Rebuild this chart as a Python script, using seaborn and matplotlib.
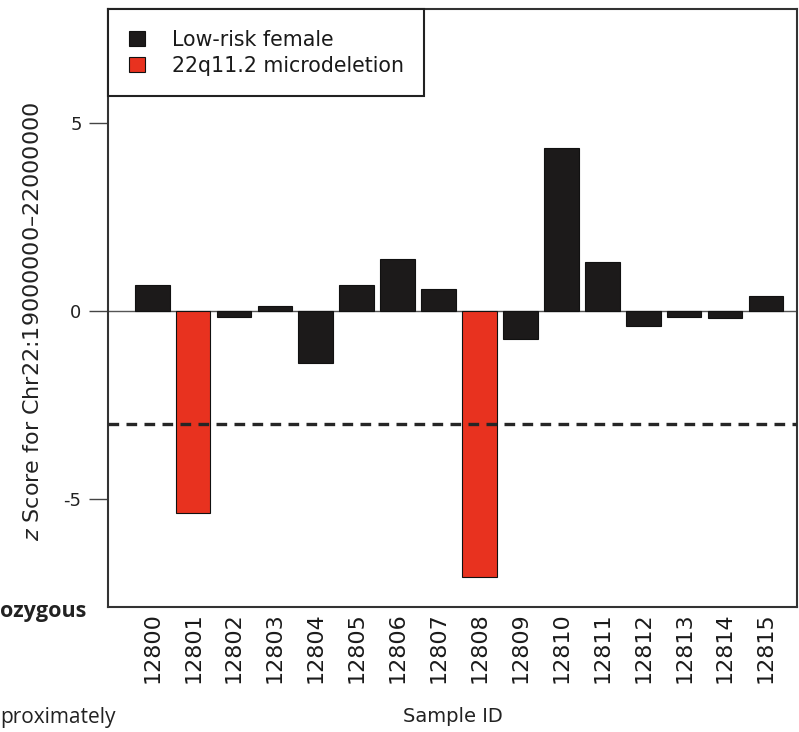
import matplotlib
matplotlib.use("Agg")
import matplotlib.pyplot as plt
import seaborn as sns
import pandas as pd

samples = ["12800", "12801", "12802", "12803", "12804", "12805", "12806", "12807",
           "12808", "12809", "12810", "12811", "12812", "12813", "12814", "12815"]
z_scores = [0.69, -5.36, -0.15, 0.13, -1.38, 0.69, 1.38, 0.58,
            -7.06, -0.74, 4.33, 1.30, -0.39, -0.15, -0.19, 0.41]
groups = ["Low-risk female", "22q11.2 microdeletion", "Low-risk female", "Low-risk female",
          "Low-risk female", "Low-risk female", "Low-risk female", "Low-risk female",
          "22q11.2 microdeletion", "Low-risk female", "Low-risk female", "Low-risk female",
          "Low-risk female", "Low-risk female", "Low-risk female", "Low-risk female"]
group_order = ["Low-risk female", "22q11.2 microdeletion"]
group_colors = ["#1c1a1a", "#e8321f"]
threshold = -3
y_ticks = [-5, 0, 5]

sns.set_theme(style="ticks")
plt.rcParams["font.family"] = ["DejaVu Sans"]
plt.rcParams["axes.unicode_minus"] = False

df = pd.DataFrame({"sample": samples, "z": z_scores, "group": groups})

fig = plt.figure(figsize=(7.99, 7.32), dpi=100)
ax = fig.add_axes([108 / 799, 1 - 607 / 732, (797 - 108) / 799, (607 - 9) / 732])

sns.barplot(data=df, x="sample", y="z", hue="group", hue_order=group_order,
            order=samples, palette=group_colors, dodge=False, width=0.85,
            edgecolor="#111111", linewidth=0.8, saturation=1, ax=ax)

ax.axhline(0, color="#555555", lw=1.0, zorder=0.5)
ax.axhline(threshold, color="#262626", lw=2.4, ls=(0, (3.2, 2.2)), zorder=3)

ax.set_xlim(-1.08, 15.76)
ax.set_ylim(-7.86, 8.02)
ax.set_yticks(y_ticks)
ax.set_yticklabels([str(t) for t in y_ticks], fontsize=13, color="#222222")
ax.tick_params(axis="y", length=14, width=1.0, color="#444444", pad=5)
ax.tick_params(axis="x", length=0, pad=4, labelsize=16, labelrotation=90, labelcolor="#1a1a1a")

ax.set_xlabel("Sample ID", fontsize=14, color="#222222")
ax.xaxis.set_label_coords(0.5, (607 - 707) / 598)
ax.set_ylabel("$z$ Score for Chr22:19000000–22000000", fontsize=16, color="#222222")
ax.yaxis.set_label_coords(-0.094, 0.478)

for side in ["left", "right", "top", "bottom"]:
    ax.spines[side].set_visible(True)
    ax.spines[side].set_color("#333333")
    ax.spines[side].set_linewidth(1.5)

handles, labels = ax.get_legend_handles_labels()
leg = ax.legend(handles, labels, loc="upper left", bbox_to_anchor=(0, 1),
                borderaxespad=0, fontsize=14.8, frameon=True, fancybox=False,
                edgecolor="#222222", framealpha=1, borderpad=1.0,
                labelspacing=0.3, handlelength=0.8, handleheight=0.8,
                handletextpad=1.3)
leg.get_frame().set_linewidth(1.5)
for t in leg.get_texts():
    t.set_color("#1a1a1a")

fig.text(0.0, 1 - 612 / 732, "ozygous", fontsize=15.5, fontweight="bold",
         family=["Open Sans", "DejaVu Sans"], color="#222222", ha="left", va="center")
fig.text(0.0, 1 - 717 / 732, "proximately", fontsize=15,
         family=["Open Sans", "DejaVu Sans"], color="#222222", ha="left", va="center")

fig.savefig("out.png", dpi=100, facecolor="white")
